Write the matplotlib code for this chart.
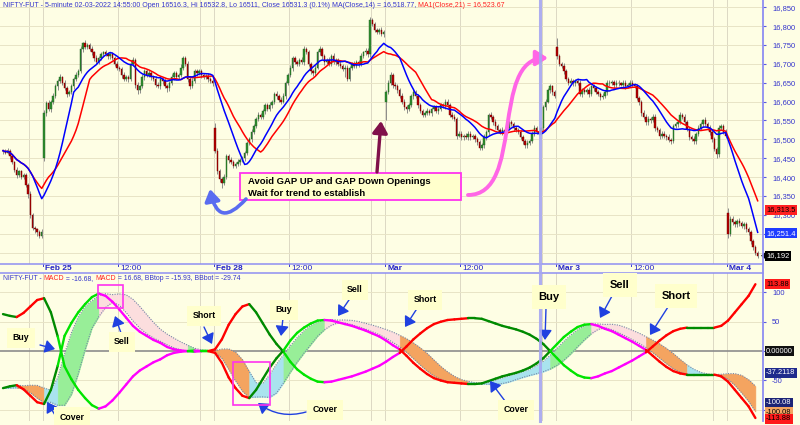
import matplotlib
matplotlib.use('Agg')
import matplotlib.pyplot as plt
import matplotlib.transforms as mtransforms
from matplotlib import font_manager
from matplotlib.collections import LineCollection
from matplotlib.patches import Rectangle, FancyArrowPatch, Polygon
from matplotlib.path import Path
from matplotlib.lines import Line2D
import numpy as np
import pandas as pd

# ---------------- DATA ----------------
# 5-minute closes per trading day (partial Feb 24 .. partial Mar 4)
feb24_close = [16470,16465,16470,16455,16440,16420,16405,16415,16400,16405,16380,16355,16300,16265,16262,16255,16245,16255]
feb25_close = [16569,16595,16580,16600,16615,16640,16655,16665,16650,16635,
               16620,16625,16640,16660,16670,16680,16740,16755,16745,16750,
               16740,16730,16715,16705,16715,16725,16730,16725,16720,16725,
               16715,16700,16690,16685,16670,16660,16665,16660,16700,16710,
               16645,16630,16640,16665,16680,16670,16675,16665,16660,16645,
               16640,16660,16655,16640,16635,16650,16665,16675,16665,16670,
               16690,16715,16700,16660,16640,16655,16680,16675,16680,16670,
               16665,16668,16660,16655,16650]
feb28_close = [16470,16415,16395,16385,16400,16455,16445,16440,16430,16435,
               16440,16445,16450,16465,16490,16500,16520,16535,16555,16565,
               16560,16575,16590,16580,16590,16600,16620,16615,16605,16600,
               16615,16650,16670,16690,16715,16705,16700,16710,16705,16740,
               16730,16700,16680,16675,16690,16730,16740,16720,16705,16710,
               16700,16720,16705,16710,16700,16695,16685,16690,16660,16690,
               16700,16695,16705,16700,16720,16730,16735,16725,16815,16805,
               16790,16785,16790,16780,16785]
mar2_close = [16625,16650,16670,16645,16640,16630,16615,16600,16585,16580,
              16590,16615,16625,16615,16590,16575,16565,16570,16575,16570,
              16580,16585,16575,16580,16590,16588,16600,16590,16565,16560,
              16555,16510,16515,16505,16510,16505,16515,16505,16508,16500,
              16492,16478,16485,16505,16520,16565,16560,16545,16535,16525,
              16520,16525,16520,16530,16545,16540,16530,16525,16520,16505,
              16495,16485,16490,16495,16515,16530,16520,16516.3,16531.3,16585,
              16600,16630,16640,16625,16615]
mar3_close = [16720,16700,16695,16680,16660,16650,16655,16648,16655,16650,
              16620,16630,16625,16630,16620,16640,16635,16625,16620,16612,
              16615,16625,16650,16648,16652,16645,16650,16648,16645,16650,
              16642,16645,16650,16645,16640,16610,16600,16570,16560,16545,
              16555,16550,16560,16530,16525,16508,16515,16510,16505,16498,
              16495,16535,16540,16545,16565,16560,16545,16528,16505,16500,
              16495,16515,16530,16540,16550,16540,16530,16520,16500,16475,
              16460,16530,16535,16520,16510]
mar4_close = [16250,16290,16280,16275,16283,16278,16270,16275,16262,16255,16230,16215,16200,16192]

# opening prices of bars that do not open at the previous close (day gaps)
gap_opens = {0: 16468, 18: 16450, 93: 16530, 168: 16600, 243: 16745, 318: 16305}

# wick lengths (points above body top / below body bottom)
wick_up = [5,4,7,5,6,3,6,5,4,7,5,4,8,5,6,4,5,8,
           8,6,9,5,7,6,5,8,4,6,5,7,6,5,8,6,7,4,9,5,6,7,5,8,6,5,4,7,6,5,6,5,7,4,6,8,5,6,9,7,
           5,6,4,7,6,5,8,6,5,7,6,4,5,7,6,5,8,6,7,5,9,6,5,7,6,8,5,6,7,5,6,5,7,4,6,
           13,6,7,5,8,6,5,7,6,5,8,6,7,5,6,5,7,6,5,8,6,5,7,6,8,5,6,7,5,6,7,5,6,8,5,7,6,5,8,6,
           5,7,6,5,8,6,7,5,6,5,7,6,8,5,6,7,5,6,8,5,6,7,5,6,8,5,6,7,10,6,7,5,6,8,5,
           5,6,8,5,7,6,5,8,6,7,5,6,8,5,6,7,5,6,8,5,7,6,5,8,6,5,7,6,5,8,6,5,7,6,5,8,6,7,5,6,
           5,7,6,8,5,6,7,5,8,6,5,7,6,5,8,6,7,5,6,5,7,6,8,5,6,7,5,6,1.5,6,8,6,7,5,6,
           24,6,5,7,6,5,8,6,5,7,6,5,7,6,8,5,6,7,5,6,8,5,6,7,5,6,8,6,5,7,6,5,8,6,5,7,6,5,8,6,
           7,5,6,8,6,5,7,6,5,8,6,7,5,6,8,5,6,7,5,6,8,5,7,6,5,8,6,7,5,6,5,7,6,5,8,
           13,6,8,7,6,8,7,6,5,7,6,5,6,5]
wick_lo = [6,5,4,6,5,7,6,5,4,6,5,9,7,6,9,10,6,5,
           6,8,5,7,6,5,8,6,7,5,9,6,5,7,6,5,4,8,6,5,7,6,8,5,6,4,7,5,6,8,5,7,6,5,8,6,5,7,6,5,
           9,10,6,5,7,6,5,8,6,7,5,6,8,5,9,6,5,7,6,5,4,6,7,8,6,5,7,6,5,8,6,5,7,6,8,
           6,8,7,15,6,5,8,6,7,5,6,8,5,7,6,5,8,6,5,7,6,5,8,6,5,7,6,8,5,6,5,7,6,5,8,6,7,5,6,8,
           5,6,7,8,6,5,7,6,8,5,6,7,5,8,6,7,5,20,6,5,7,6,5,8,6,5,7,6,8,5,7,6,5,6,8,
           49,6,5,8,6,7,5,6,8,10,6,5,7,6,8,5,6,7,5,6,8,5,6,7,5,6,8,6,7,5,6,8,5,7,6,5,8,6,5,7,
           8,6,5,7,6,8,5,6,7,5,6,8,5,7,6,5,8,6,7,5,6,7,8,6,5,7,6,5,5.3,6,7,5,6,8,6,
           6,7,5,8,6,5,7,6,8,5,6,7,5,6,8,5,7,6,5,8,6,5,7,6,5,8,6,7,5,6,8,5,6,7,5,6,8,7,5,6,
           8,6,5,7,6,8,5,6,7,6,8,5,6,7,5,6,8,6,7,5,6,8,5,6,7,5,6,8,7,6,9,6,5,7,6,
           10,6,7,8,6,7,5,8,6,7,6,8,6,5]

day_labels = ['Feb 25', 'Feb 28', 'Mar', 'Mar 3', 'Mar 4']
day_start_bars = [18, 93, 168, 243, 318]
feb24_1500_bar = 12

# MACD (sampled every 3 bars) -- the mirrored line is -MACD
macd_step = 3
macd_vals = [-63,-60,-58,-65,-76,-87,-90,-66,-25,26,
             48,66,80,92,98,94,84,71,57,43,
             33,26,19,14,7,3,1,0,1,0,
             0,-3,-20,-45,-63,-76,-80,-66,-47,-28,
             -12,1,18,31,40,47,52,53,52,49,
             46,43,39,35,30,25,18,10,3,-8,
             -20,-30,-39,-46,-50,-53,-54,-55,-56,-56,
             -55,-51,-47,-43,-40,-37,-33,-28,-21,-12,
             0,12,24,33,41,45,46,43,38,34,
             28,22,16,9,2,-8,-18,-27,-34,-38,
             -40,-40,-40,-40,-40,-43,-52,-66,-80,-94,
             -113.88]

price_ticks = list(range(16200, 16851, 50))
price_hidden = [16200, 16250]          # covered by value flags
macd_ticks = [-100, -50, 0, 50, 100]
macd_hidden = [-100, 0]

# values shown in the right-hand flags: (value, text, background, text colour)
price_flags = [(16313.5, '16,313.5', '#ff2020', '#000000'),
               (16251.4, '16,251.4', '#1f3cff', '#ffffff'),
               (16192.0, '16,192', '#000000', '#ffffff')]
macd_flags = [(113.88, '113.88', '#ff1a1a', '#000000'),
              (0.0, '0.00000', '#111111', '#ffffff'),
              (-37.2118, '-37.2118', '#1f2a8c', '#ffffff'),
              (-87.5, '-100.08', '#1c2476', '#ffffff'),
              (-104.0, '-100.08', '#f4a460', '#000000'),
              (-115.5, '-113.88', '#ff1a1a', '#000000')]

# ---------------- BUILD SERIES ----------------
close = np.array(feb24_close + feb25_close + feb28_close + mar2_close + mar3_close + mar4_close, dtype=float)
n = len(close)
opn = np.concatenate([[close[0]], close[:-1]])
for k, v in gap_opens.items():
    opn[k] = v
high = np.maximum(opn, close) + np.array(wick_up, dtype=float)
low = np.minimum(opn, close) - np.array(wick_lo, dtype=float)
idx = np.arange(n)
ma14 = pd.Series(close).rolling(14, min_periods=1).mean().values
ma21 = pd.Series(close).rolling(21, min_periods=1).mean().values

M = np.array(macd_vals, dtype=float)
mx = np.arange(len(M)) * macd_step
roll = pd.Series(M).rolling(5, min_periods=1)
bb_mid = roll.mean().values
bb_sd = roll.std(ddof=0).fillna(0).values
bb_top = bb_mid + bb_sd
bb_bot = bb_mid - bb_sd

# ---------------- FIGURE ----------------
names = {f.name for f in font_manager.fontManager.ttflist}
NARROW = 'Liberation Sans Narrow' if 'Liberation Sans Narrow' in names else 'Liberation Sans'
plt.rcParams['font.family'] = ['Liberation Sans', 'DejaVu Sans']
plt.rcParams['axes.unicode_minus'] = False
W, H = 800, 425
BG = '#fefee4'
fig = plt.figure(figsize=(8, 4.25), dpi=100)
fig.patch.set_facecolor(BG)
renderer = fig.canvas.get_renderer()

def fx(px):
    return px / W

def fy(py):
    return 1 - py / H

X_RIGHT = 763
ax1 = fig.add_axes([0, fy(264), X_RIGHT / W, 264 / H])
ax2 = fig.add_axes([0, fy(421), X_RIGHT / W, (421 - 273) / H])
xlim = ((0 - 3) / 2.28, (X_RIGHT - 3) / 2.28)
GRID = '#e8e4c6'
VGRID = '#dcd8c4'
AXBLUE = '#8e8ef2'
TXTBLUE = '#3434cc'

vlines_bars = [feb24_1500_bar]
for s in day_start_bars:
    vlines_bars += [s, s + 33, s + 69]

for ax in (ax1, ax2):
    ax.set_facecolor(BG)
    ax.set_xlim(*xlim)
    for sp in ax.spines.values():
        sp.set_visible(False)
    ax.set_xticks([])
    ax.yaxis.tick_right()
    ax.yaxis.get_offset_text().set_visible(False)
    ax.xaxis.get_offset_text().set_visible(False)
    ax.tick_params(axis='y', length=2.5, width=0.8, color='#5a5ae0', labelcolor=TXTBLUE,
                   labelsize=5.4, pad=4, direction='out')
    for b in vlines_bars:
        if b < n:
            ax.axvline(b - 0.5, color=VGRID, lw=0.7, zorder=0)

# ---- price panel ----
ax1.set_ylim(16170, 16869)
ax1.set_yticks(price_ticks)
ax1.set_yticklabels(['' if v in price_hidden else f'{v:,}' for v in price_ticks])
for v in price_ticks:
    ax1.axhline(v, color=GRID, lw=0.7, zorder=0)

up = close >= opn
body_col = np.where(up, '#2f8f2f', '#b40000')
edge_col = np.where(up, '#1d5e1d', '#6e0000')
ax1.vlines(idx, low, high, color='#7a7a7a', lw=0.6, zorder=2)
ax1.bar(idx, np.maximum(np.abs(close - opn), 1.0), bottom=np.minimum(opn, close), width=0.62,
        color=body_col, edgecolor=edge_col, linewidth=0.3, zorder=3)
ax1.plot(idx, ma21, color='#ff0000', lw=1.1, zorder=4)
ax1.plot(idx, ma14, color='#0000ff', lw=1.1, zorder=5)

# ---- MACD panel ----
ax2.set_ylim(-119, 133)
ax2.set_yticks(macd_ticks)
ax2.set_yticklabels(['' if v in macd_hidden else str(v) for v in macd_ticks])
for v in macd_ticks:
    if v != 0:
        ax2.axhline(v, color=GRID, lw=0.7, zorder=0)
ax2.axhline(0, color='#8c8c8c', lw=1.2, zorder=1)

line_cols = {(True, True): '#00e400', (True, False): '#ff00ff',
             (False, True): '#008a00', (False, False): '#ff0000'}
fill_cols = {(True, True): '#98ee98', (True, False): '#fcdede',
             (False, True): '#a9e3ee', (False, False): '#f4a460'}
segs_a, segs_b, cols, states = [], [], [], []
for k in range(len(M) - 1):
    rising = M[k + 1] >= M[k]
    pos = (M[k] + M[k + 1]) / 2 >= 0
    states.append((pos, rising))
    segs_a.append([(mx[k], M[k]), (mx[k + 1], M[k + 1])])
    segs_b.append([(mx[k], -M[k]), (mx[k + 1], -M[k + 1])])
    cols.append(line_cols[(pos, rising)])

start = 0
for k in range(1, len(states) + 1):
    if k == len(states) or states[k] != states[start]:
        c = fill_cols[states[start]]
        ax2.fill_between(mx[start:k + 1], bb_bot[start:k + 1], bb_top[start:k + 1],
                         facecolor=c, edgecolor=c, lw=0.4, zorder=2)
        start = k
ax2.plot(mx, bb_top, color='#7486a6', lw=0.8, ls=(0, (1, 1.2)), zorder=3)
ax2.plot(mx, bb_bot, color='#7486a6', lw=0.8, ls=(0, (1, 1.2)), zorder=3)
ax2.add_collection(LineCollection(segs_b, colors=cols, linewidths=1.7, zorder=4, capstyle='round'))
ax2.add_collection(LineCollection(segs_a, colors=cols, linewidths=1.7, zorder=5, capstyle='round'))

# ---- frame lines ----
for y in (264, 273):
    fig.add_artist(Line2D([0, fx(X_RIGHT)], [fy(y), fy(y)], color=AXBLUE, lw=1.1))
fig.add_artist(Line2D([fx(X_RIGHT), fx(X_RIGHT)], [fy(0), fy(421)], color=AXBLUE, lw=1.3))
fig.add_artist(Line2D([fx(540), fx(540)], [fy(0), fy(421)], color='#a6a6f2', lw=2.2, alpha=0.9))

# ---- date axis (only ticks inside the visible range) ----
xtr = ax1.get_xaxis_transform()
for s, lab in zip(day_start_bars, day_labels):
    for b, txt, bold in ((s, lab, True), (s + 33, '12:00', False)):
        if b - 0.5 > xlim[1] - 4:
            continue
        ax1.add_line(Line2D([b - 0.5, b - 0.5], [0, -0.009], transform=xtr, color='#3a3ad0',
                            lw=0.7, clip_on=False))
        ax1.text(b - 0.5, -0.018, txt, transform=mtransforms.offset_copy(xtr, fig, x=2.5, units='dots'),
                 fontsize=6.0, color='#2424c8', fontweight='bold' if bold else 'normal',
                 va='center', ha='left', clip_on=False)

# ---- rich titles ----
def fit_size(parts, target_px, family):
    t = fig.text(0, 0, ''.join(p for p, _ in parts), fontsize=10, family=family)
    w = t.get_window_extent(renderer).width
    t.remove()
    return 10 * target_px / w

def rich(x_px, y_px, parts, size, family):
    x = x_px
    for s, col in parts:
        t = fig.text(fx(x), fy(y_px), s, color=col, fontsize=size, family=family,
                     va='center', ha='left')
        x += t.get_window_extent(renderer).width

top_blue = 'NIFTY-FUT - 5-minute 02-03-2022 14:55:00 Open 16516.3, Hi 16532.8, Lo 16511, Close 16531.3 (0.1%) MA(Close,14) = 16,518.77, '
rich(3, 5.5, [(top_blue, TXTBLUE), ('MA1(Close,21) = 16,523.67', '#ff2020')],
     fit_size([(top_blue, '')], 411, NARROW), NARROW)
low_parts = [('NIFTY-FUT - ', TXTBLUE), ('MACD', '#ff2020'), (' = -16.68, ', TXTBLUE),
             ('MACD', '#ff2020'), (' = 16.68, BBtop = -15.93, BBbot = -29.74', TXTBLUE)]
rich(3, 279, low_parts, fit_size(low_parts, 237, NARROW), NARROW)

# ---- value flags on the right axis ----
def flag(ax, val, txt, bg, fg):
    tr = mtransforms.blended_transform_factory(fig.transFigure, ax.transData)
    ax.text(fx(766), val, txt, transform=tr, fontsize=5.4, color=fg, va='center', ha='left',
            clip_on=False, zorder=10, bbox=dict(boxstyle='square,pad=0.2', fc=bg, ec='none'))

for val, txt, bg, fg in price_flags:
    flag(ax1, val, txt, bg, fg)
ptr = ax1.transData.transform((0, price_flags[-1][0]))[1]
fig.add_artist(Polygon([(fx(761), ptr / H), (fx(766), ptr / H + 4 / H), (fx(766), ptr / H - 4 / H)],
                       closed=True, fc='#000000', ec='none', transform=fig.transFigure))
for val, txt, bg, fg in macd_flags:
    flag(ax2, val, txt, bg, fg)

# ---- annotations (price panel) ----
fig.add_artist(Rectangle((fx(240), fy(200)), fx(461) - fx(240), (200 - 173) / H, transform=fig.transFigure,
                         fc='#ffffcc', ec='#ff33ee', lw=1.3))
fig.text(fx(248), fy(181.5), 'Avoid GAP UP and GAP Down Openings', fontsize=6.8, fontweight='bold',
         va='center', ha='left')
fig.text(fx(248), fy(193.5), 'Wait for trend to establish', fontsize=6.8, fontweight='bold',
         va='center', ha='left')

def farrow(p0, p1, col, lw, rad=0.0, head=(0.6, 0.4), ms=10):
    fig.add_artist(FancyArrowPatch((fx(p0[0]), fy(p0[1])), (fx(p1[0]), fy(p1[1])),
                                   transform=fig.transFigure, connectionstyle=f'arc3,rad={rad}',
                                   arrowstyle=f'-|>,head_length={head[0]},head_width={head[1]}',
                                   mutation_scale=ms, color=col, lw=lw, shrinkA=0, shrinkB=0))

farrow((246, 199), (210, 189), '#5a6cf0', 2.6, rad=-1.0, head=(0.7, 0.45))
farrow((377, 172), (381, 121), '#80104a', 2.4, head=(0.7, 0.45))
pk = Path([(fx(468), fy(195)), (fx(525), fy(195)), (fx(490), fy(58)), (fx(548), fy(58))],
          [Path.MOVETO, Path.CURVE4, Path.CURVE4, Path.CURVE4])
fig.add_artist(FancyArrowPatch(path=pk, transform=fig.transFigure, color='#ff66e6', lw=2.8,
                               arrowstyle='-|>,head_length=0.7,head_width=0.45', mutation_scale=10))

# ---- annotations (MACD panel) ----
def label(cx, cy, txt, size=6.3):
    fig.text(fx(cx), fy(cy), txt, fontsize=size, fontweight='bold', va='center', ha='center',
             bbox=dict(boxstyle='square,pad=0.6', fc='#ffffcc', ec='none'))

ABLUE = '#2040e0'
label(21, 338, 'Buy');    farrow((40, 345), (55, 349), ABLUE, 1.0)
label(72, 417, 'Cover');  farrow((55, 415), (47, 402), ABLUE, 1.0)
label(122, 342, 'Sell');  farrow((121, 333), (115, 316), ABLUE, 1.0)
label(204, 316, 'Short'); farrow((204, 327), (212, 344), ABLUE, 1.0)
label(284, 310, 'Buy');   farrow((283, 318), (281, 336), ABLUE, 1.0)
label(325, 410, 'Cover'); farrow((306, 412), (258, 403), ABLUE, 1.0, rad=-0.25)
label(355, 290, 'Sell');  farrow((351, 297), (338, 316), ABLUE, 1.0)
label(425, 300, 'Short'); farrow((418, 307), (405, 327), ABLUE, 1.0)
label(516, 410, 'Cover'); farrow((505, 401), (490, 381), ABLUE, 1.0)
label(549, 297, 'Buy', 8); farrow((546, 308), (545, 340), ABLUE, 1.0)
label(620, 285, 'Sell', 8); farrow((612, 296), (600, 318), ABLUE, 1.0)
label(676, 296, 'Short', 8); farrow((668, 307), (650, 335), ABLUE, 1.0)

for (x0, y0, x1, y1) in ((98, 285, 123, 308), (233, 362, 270, 405)):
    fig.add_artist(Rectangle((fx(x0), fy(y1)), fx(x1) - fx(x0), (y1 - y0) / H, transform=fig.transFigure,
                             fc='none', ec='#ff33ee', lw=1.2))

fig.savefig('out.png', dpi=100, facecolor=BG)
